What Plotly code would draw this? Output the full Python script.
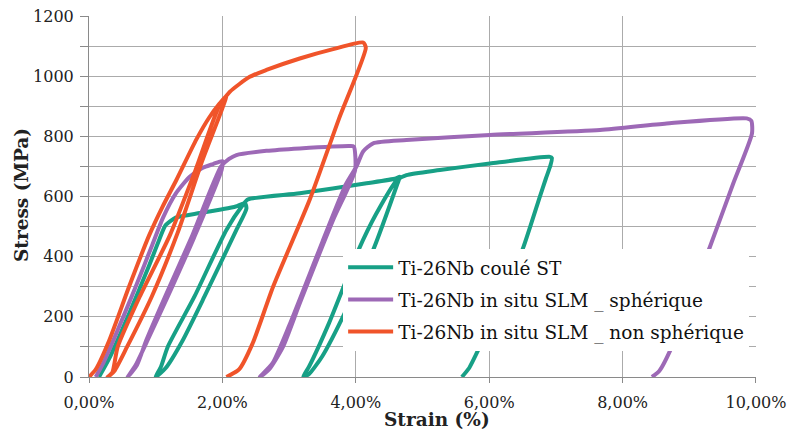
import plotly.graph_objects as go

# ---- data (strain in %, stress in MPa) ----
series_names = ["Ti-26Nb coulé ST",
                "Ti-26Nb in situ SLM _ sphérique",
                "Ti-26Nb in situ SLM _ non sphérique"]

teal_strain = [0.15, 0.30, 0.60, 0.90, 1.05, 1.15, 1.30, 1.66, 2.00, 2.20, 2.34,
               2.36, 2.21, 1.73, 1.40, 1.15, 1.00,
               1.08, 1.18, 1.58, 2.06, 2.30, 2.38, 3.16, 4.16, 4.60, 4.66,
               4.62, 4.26, 3.85, 3.50, 3.30, 3.21,
               3.30, 3.60, 4.04, 4.30, 4.62, 4.76, 5.26, 6.01, 6.91, 6.94,
               6.92, 6.85, 6.76, 6.51, 6.20, 5.86, 5.70, 5.59]
teal_stress = [0, 60, 210, 370, 455, 505, 530, 545, 558, 567, 578,
               560, 489, 267, 120, 30, 0,
               35, 100, 267, 489, 570, 590, 611, 644, 660, 666,
               640, 422, 220, 70, 10, 0,
               35, 180, 422, 540, 655, 671, 688, 710, 732, 728,
               705, 660, 600, 430, 260, 101, 30, 0]

purple_strain = [0.10, 0.20, 0.40, 0.70, 0.95, 1.11, 1.30, 1.51, 1.70, 1.86, 2.00,
                 1.99, 1.58, 1.18, 0.88, 0.70, 0.58,
                 0.72, 0.86, 1.14, 1.54, 1.98, 2.10, 2.21, 2.66, 3.16, 3.91, 3.97,
                 3.99, 3.66, 3.16, 2.91, 2.70, 2.56,
                 2.75, 3.00, 3.50, 3.85, 4.01, 4.11, 4.26, 4.76, 6.01, 7.66, 8.66, 9.86, 9.93,
                 9.94, 9.66, 9.31, 8.74, 8.55, 8.44]
purple_stress = [0, 40, 140, 300, 440, 530, 610, 666, 695, 708, 718,
                 690, 466, 267, 123, 40, 0,
                 40, 123, 267, 466, 700, 725, 738, 752, 760, 768, 766,
                 688, 522, 245, 101, 25, 0,
                 45, 170, 450, 640, 700, 750, 777, 788, 805, 821, 843, 860, 852,
                 810, 644, 433, 101, 20, 0]

orange_strain = [0.00, 0.10, 0.30, 0.60, 0.90, 1.10, 1.31, 1.61, 1.80, 1.96, 2.06,
                 1.70, 1.33, 0.94, 0.57, 0.38, 0.28,
                 0.35, 0.43, 0.76, 1.21, 1.60, 1.95, 2.11, 2.41, 2.66, 3.16, 3.66, 4.11, 4.15,
                 3.75, 3.31, 2.76, 2.45, 2.25, 2.06]
orange_stress = [0, 25, 120, 300, 470, 565, 655, 790, 862, 910, 935,
                 720, 480, 267, 100, 20, 0,
                 15, 100, 267, 470, 690, 900, 948, 998, 1021, 1059, 1090, 1112, 1095,
                 860, 590, 300, 110, 25, 0]

colors = ["#17a086", "#9d69b6", "#f0542a"]

x_tickvals = [0, 2, 4, 6, 8, 10]
x_ticktext = ["0,00%", "2,00%", "4,00%", "6,00%", "8,00%", "10,00%"]
y_tickvals = [0, 200, 400, 600, 800, 1000, 1200]
y_ticktext = ["0", "200", "400", "600", "800", "1000", "1200"]
x_title = "Strain (%)"
y_title = "Stress (MPa)"

fig = go.Figure()
for name, xs, ys, c in zip(series_names,
                           [teal_strain, purple_strain, orange_strain],
                           [teal_stress, purple_stress, orange_stress],
                           colors):
    fig.add_trace(go.Scatter(x=xs, y=ys, name=name, mode="lines",
                             legendgroup=name,
                             line=dict(color=c, width=4, shape="spline", smoothing=0.6)))

ff = "DejaVu Serif"
grid_col = "#ababab"
title_font = dict(family=ff, size=18.5, weight="bold", color="#222222")
fig.update_layout(
    width=791, height=432,
    margin=dict(l=89, r=35, t=16, b=55, autoexpand=False),
    plot_bgcolor="white", paper_bgcolor="white",
    font=dict(family=ff, size=16, color="#222222"),
    showlegend=True,
    legend=dict(x=0.381, y=0.355, xanchor="left", yanchor="top",
                bgcolor="white", borderwidth=0, itemwidth=45,
                font=dict(family=ff, size=18.5, color="#111111"),
                traceorder="grouped", tracegroupgap=5),
    xaxis=dict(range=[0, 10.0001], tickvals=x_tickvals, ticktext=x_ticktext,
               automargin=False, ticklabelstandoff=6,
               tickfont=dict(family=ff, size=16),
               showgrid=True, gridcolor=grid_col, gridwidth=1,
               showline=True, linecolor="#8a8a8a", linewidth=1,
               ticks="outside", ticklen=5, tickcolor="#8a8a8a",
               zeroline=False),
    yaxis=dict(range=[0, 1200.3], tickvals=y_tickvals, ticktext=y_ticktext,
               automargin=False, ticklabeloverflow="allow", ticklabelstandoff=3,
               tickfont=dict(family=ff, size=16),
               showgrid=True, gridcolor=grid_col, gridwidth=1,
               showline=True, linecolor="#8a8a8a", linewidth=1,
               ticks="outside", ticklen=8, tickcolor="#8a8a8a",
               zeroline=False,
               minor=dict(dtick=100, tick0=0, showgrid=True, gridcolor=grid_col,
                          ticks="outside", ticklen=8, tickcolor="#8a8a8a")),
    annotations=[
        dict(text=x_title, xref="paper", yref="paper", x=0.522, y=-0.119,
             xanchor="center", yanchor="middle", showarrow=False, font=title_font),
        dict(text=y_title, xref="paper", yref="paper", x=-0.102, y=0.504,
             xanchor="center", yanchor="middle", textangle=-90, showarrow=False,
             font=title_font),
    ],
)
# remove the default 8px page margin so the figure sits at the window's top-left
fig.write_html("out.html", config={"displayModeBar": False},
               post_script="document.body.style.margin='0';")
